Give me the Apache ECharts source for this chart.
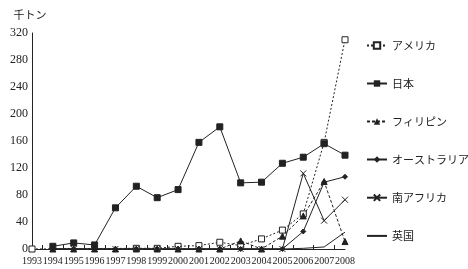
<!DOCTYPE html>
<html>
<head>
<meta charset="utf-8">
<script src="https://cdn.jsdelivr.net/npm/echarts@6/dist/echarts.min.js"></script>
<style>
  html, body { margin: 0; padding: 0; background: #fff; }
  #main { width: 468px; height: 269px; }
</style>
</head>
<body>
<div id="main"></div>
<script>
// 年（横軸）
var years = [1993, 1994, 1995, 1996, 1997, 1998, 1999, 2000, 2001, 2002, 2003, 2004, 2005, 2006, 2007, 2008];
var yTicks = [0, 40, 80, 120, 160, 200, 240, 280, 320];

// 千トン
var america   = [0, null, null, null, null, 1, 1, 4, 5, 10, 5, 15, 28, 52, 158, 310];
var japan     = [null, 4, 9, 6, 61, 93, 76, 88, 158, 181, 98, 99, 127, 136, 156, 139];
var philippines = [null, 0, 0, 0, 0, 0, 0, 0, 0, 0, 12, 0, 19, 49, 100, 11];
var australia = [null, 0, 0, 0, 0, 0, 0, 0, 0, 0, 0, 0, 0, 26, 99, 107];
var southAfrica = [null, 0, 0, 0, 0, 0, 0, 0, 0, 0, 0, 0, 0, 112, 42, 73];
var uk        = [null, 0, 0, 0, 0, 0, 0, 0, 0, 0, 0, 0, 0, 1, 3, 25];

function pairs(arr) {
  return years.map(function (y, i) { return [y, arr[i]]; });
}

var ink = '#222';
var crossPath = 'path://M0,0L10,10M10,0L0,10';

var chartDom = document.getElementById('main');
var myChart = echarts.init(chartDom);

var option = {
  animation: false,
  textStyle: { fontFamily: 'Liberation Serif', color: ink },
  grid: { left: 32, right: 123, top: 33, bottom: 20 },
  legend: {
    orient: 'vertical',
    left: 361,
    top: 35,
    itemGap: 27,
    itemWidth: 20,
    itemHeight: 8,
    textStyle: { fontFamily: 'Noto Sans CJK JP', fontSize: 11, color: ink },
    data: ['アメリカ', '日本', 'フィリピン', 'オーストラリア', '南アフリカ',
      { name: '英国', itemStyle: { opacity: 0 } }]
  },
  xAxis: {
    type: 'value',
    min: years[0],
    max: years[years.length - 1],
    interval: 1,
    axisLine: { lineStyle: { color: ink, width: 1 } },
    axisTick: { show: false, inside: true },
    minorTick: { show: true, splitNumber: 2, length: 4, lineStyle: { color: ink } },
    splitLine: { show: false },
    axisLabel: { fontSize: 10, color: ink, margin: 7, formatter: function (v) { return String(v); } }
  },
  yAxis: {
    type: 'value',
    min: yTicks[0],
    max: yTicks[yTicks.length - 1],
    interval: 40,
    name: '千トン',
    nameGap: 13,
    nameTextStyle: { fontFamily: 'Noto Sans CJK JP', fontSize: 11, color: ink, align: 'center', padding: [0, 0, 0, -4] },
    axisLine: { show: true, lineStyle: { color: ink, width: 1 } },
    axisTick: { show: false },
    splitLine: { show: false },
    axisLabel: { fontSize: 12, color: ink, margin: 4 }
  },
  series: [
    {
      name: 'アメリカ', type: 'line', data: pairs(america),
      symbol: 'rect', symbolSize: 6, connectNulls: true,
      lineStyle: { color: ink, width: 1, type: [2, 2] },
      itemStyle: { color: '#fff', borderColor: ink, borderWidth: 1 }
    },
    {
      name: '日本', type: 'line', data: pairs(japan),
      symbol: 'rect', symbolSize: 6,
      lineStyle: { color: ink, width: 1 },
      itemStyle: { color: ink, borderColor: ink }
    },
    {
      name: 'フィリピン', type: 'line', data: pairs(philippines),
      symbol: 'triangle', symbolSize: 6,
      lineStyle: { color: ink, width: 1, type: [3, 2] },
      itemStyle: { color: ink, borderColor: ink }
    },
    {
      name: 'オーストラリア', type: 'line', data: pairs(australia),
      symbol: 'diamond', symbolSize: 5,
      lineStyle: { color: ink, width: 1 },
      itemStyle: { color: ink, borderColor: ink }
    },
    {
      name: '南アフリカ', type: 'line', data: pairs(southAfrica),
      symbol: crossPath, symbolSize: 6,
      lineStyle: { color: ink, width: 1 },
      itemStyle: { color: 'none', borderColor: ink, borderWidth: 1 }
    },
    {
      name: '英国', type: 'line', data: pairs(uk),
      symbol: 'none',
      lineStyle: { color: ink, width: 1 },
      itemStyle: { color: ink }
    }
  ]
};

myChart.setOption(option);
</script>
</body>
</html>
